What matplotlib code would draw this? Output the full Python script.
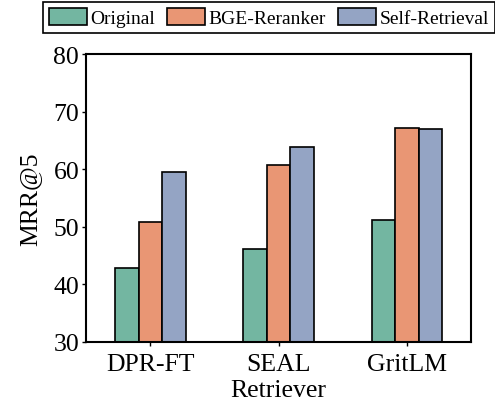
import numpy as np
import matplotlib
matplotlib.use("Agg")
import matplotlib.pyplot as plt

plt.rcParams['font.family'] = ['Liberation Serif', 'DejaVu Serif']

# data
retrievers = ['DPR-FT', 'SEAL', 'GritLM']
methods = ['Original', 'BGE-Reranker', 'Self-Retrieval']
original = [42.9, 46.2, 51.1]
bge_reranker = [50.8, 60.7, 67.2]
self_retrieval = [59.6, 63.9, 67.1]
colors = ['#73b6a1', '#e99674', '#94a4c4']

series = [original, bge_reranker, self_retrieval]

fig = plt.figure(figsize=(4.95, 4.1), dpi=100)
ax = fig.add_axes([0.174, 0.164, 0.778, 0.701])

x = np.arange(len(retrievers))
width = 0.184
for i, (vals, name, c) in enumerate(zip(series, methods, colors)):
    ax.bar(x + (i - 1) * width, vals, width, color=c, edgecolor='black',
           linewidth=1.2, label=name)

ax.set_xlim(-0.5, 2.5)
ax.set_ylim(30, 80)
ax.set_yticks([30, 40, 50, 60, 70, 80])
ax.set_xticks(x)
ax.set_xticklabels(retrievers)
ax.tick_params(axis='both', labelsize=18.5, length=3, width=1)
ax.tick_params(axis='x', pad=5)
ax.tick_params(axis='y', pad=2)
ax.set_ylabel('MRR@5', fontsize=18.5, labelpad=9)
ax.set_xlabel('Retriever', fontsize=18.5, labelpad=3)
for s in ax.spines.values():
    s.set_linewidth(1.5)

leg = fig.legend(loc='upper center', bbox_to_anchor=(0.543, 1.0), ncol=3,
                 fontsize=14, frameon=True, fancybox=False, edgecolor='black',
                 handlelength=1.95, handleheight=1.0, handletextpad=0.2,
                 columnspacing=0.6, borderpad=0.3, borderaxespad=0.15)
leg.get_frame().set_linewidth(1.2)
leg.get_frame().set_alpha(1)

fig.savefig('out.png', dpi=100)
